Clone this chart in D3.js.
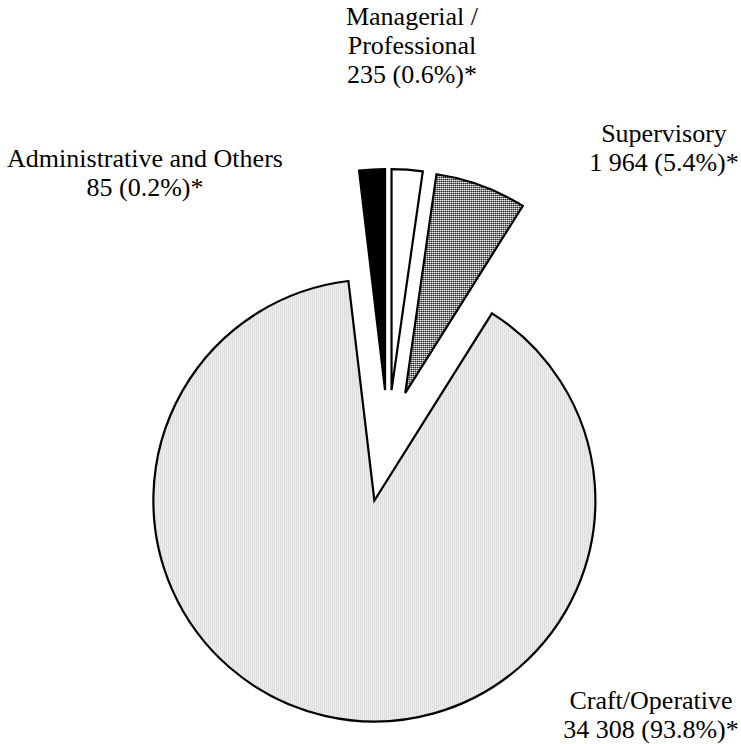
<!DOCTYPE html>
<html>
<head>
<meta charset="utf-8">
<script src="https://cdn.jsdelivr.net/npm/d3@7"></script>
<style>
  html, body { margin: 0; padding: 0; background: #fff; }
  svg { display: block; }
  text { font-family: "Liberation Serif", "Times New Roman", serif; font-size: 26px; fill: #000; }
</style>
</head>
<body>
<svg id="chart" width="741" height="744"></svg>
<script>
// Staff by job category
const categories = ["Administrative and Others", "Managerial / Professional", "Supervisory", "Craft/Operative"];
const counts = [85, 235, 1964, 34308];
const shareLabels = ["0.2%", "0.6%", "5.4%", "93.8%"];
const labelLines = [
  ["Administrative and Others", "85 (0.2%)*"],
  ["Managerial /", "Professional", "235 (0.6%)*"],
  ["Supervisory", "1 964 (5.4%)*"],
  ["Craft/Operative", "34 308 (93.8%)*"]
];

const svg = d3.select("#chart");
const W = 741, H = 744;

// Fill patterns: solid black, plain white, dark dither, light dither
const defs = svg.append("defs");
const dark = defs.append("pattern").attr("id", "dither-dark")
  .attr("patternUnits", "userSpaceOnUse").attr("width", 2).attr("height", 2);
dark.append("rect").attr("width", 2).attr("height", 2).attr("fill", "#9a9a9a");
dark.append("rect").attr("x", 0).attr("y", 0).attr("width", 1).attr("height", 1).attr("fill", "#000");
dark.append("rect").attr("x", 1).attr("y", 1).attr("width", 1).attr("height", 1).attr("fill", "#fff");

const light = defs.append("pattern").attr("id", "dither-light")
  .attr("patternUnits", "userSpaceOnUse").attr("width", 2).attr("height", 2);
light.append("rect").attr("width", 2).attr("height", 2).attr("fill", "#fff");
light.append("rect").attr("x", 0).attr("y", 0).attr("width", 1).attr("height", 1).attr("fill", "#9a9a9a");

const fills = ["#000", "#fff", "url(#dither-dark)", "url(#dither-light)"];
const explode = [50, 50, 50, 62];

// Each slice carries a small base weight so the thin categories stay visible
const baseWeight = 650;
const weights = counts.map(v => v + baseWeight);
const total = d3.sum(weights);
const start = -weights[0] / total * 2 * Math.PI;

const pie = d3.pie().sort(null).value(d => d)
  .startAngle(start).endAngle(start + 2 * Math.PI);
const arcs = pie(weights);

const R = 221;
const cx = 388, cy = 440;
const arc = d3.arc().innerRadius(0).outerRadius(R);

const g = svg.append("g").attr("transform", `translate(${cx},${cy})`);
g.selectAll("path.slice")
  .data(arcs)
  .join("path")
  .attr("class", "slice")
  .attr("transform", (d, i) => {
    const mid = (d.startAngle + d.endAngle) / 2;
    return `translate(${Math.sin(mid) * explode[i]},${-Math.cos(mid) * explode[i]})`;
  })
  .attr("d", arc)
  .attr("fill", (d, i) => fills[i])
  .attr("stroke", "#000")
  .attr("stroke-width", 2.2)
  .attr("stroke-linejoin", "miter");

// Category labels
const labelPos = [
  { x: 145, y: 167 },
  { x: 412, y: 25 },
  { x: 664, y: 142 },
  { x: 651, y: 709 }
];
const lineGap = 29;
labelLines.forEach((lines, i) => {
  const t = svg.append("text")
    .attr("text-anchor", "middle")
    .attr("x", labelPos[i].x)
    .attr("y", labelPos[i].y);
  lines.forEach((ln, j) => {
    t.append("tspan").attr("x", labelPos[i].x).attr("dy", j === 0 ? 0 : lineGap).text(ln);
  });
});
</script>
</body>
</html>
